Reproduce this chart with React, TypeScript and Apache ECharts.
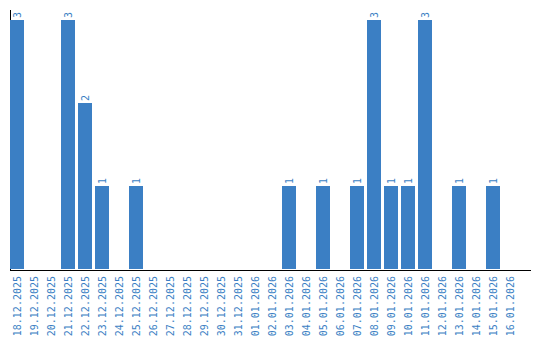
import React, { useEffect, useRef } from "react";
import * as echarts from "echarts";

const categories = [
  "18.12.2025", "19.12.2025", "20.12.2025", "21.12.2025", "22.12.2025", "23.12.2025",
  "24.12.2025", "25.12.2025", "26.12.2025", "27.12.2025", "28.12.2025", "29.12.2025",
  "30.12.2025", "31.12.2025", "01.01.2026", "02.01.2026", "03.01.2026", "04.01.2026",
  "05.01.2026", "06.01.2026", "07.01.2026", "08.01.2026", "09.01.2026", "10.01.2026",
  "11.01.2026", "12.01.2026", "13.01.2026", "14.01.2026", "15.01.2026", "16.01.2026",
];

const values = [
  3, 0, 0, 3, 2, 1,
  0, 1, 0, 0, 0, 0,
  0, 0, 0, 0, 1, 0,
  1, 0, 1, 3, 1, 1,
  3, 0, 1, 0, 1, 0,
];

const BLUE = "#3b7fc4";
const FONT = "DejaVu Sans Mono";

export default function App() {
  const ref = useRef<HTMLDivElement>(null);

  useEffect(() => {
    document.body.style.margin = "0";
    if (!ref.current) return;
    const chart = echarts.init(ref.current, undefined, { renderer: "svg" });
    chart.setOption({
      animation: false,
      grid: { left: 8.5, top: 20, width: 510, height: 249, containLabel: false },
      xAxis: {
        type: "category",
        data: categories,
        axisLine: { show: false },
        axisTick: { show: false },
        axisLabel: {
          rotate: 90,
          interval: 0,
          margin: 7,
          color: BLUE,
          fontFamily: FONT,
          fontSize: 10,
        },
      },
      yAxis: {
        type: "value",
        min: 0,
        max: 3,
        show: false,
        splitLine: { show: false },
      },
      series: [
        {
          type: "bar",
          data: values,
          barWidth: 14,
          itemStyle: { color: BLUE },
          label: {
            show: true,
            position: "top",
            rotate: 90,
            align: "left",
            verticalAlign: "middle",
            distance: 2,
            color: BLUE,
            fontFamily: FONT,
            fontSize: 10,
            formatter: (p: any) => (p.value ? String(p.value) : ""),
          },
        },
      ],
      graphic: [
        {
          type: "line",
          shape: { x1: 10.5, y1: 10, x2: 10.5, y2: 270 },
          style: { stroke: "#000", lineWidth: 1 },
          z: 0,
        },
        {
          type: "line",
          shape: { x1: 10, y1: 270.5, x2: 531, y2: 270.5 },
          style: { stroke: "#000", lineWidth: 1 },
          z: 10,
        },
      ],
    });
    return () => chart.dispose();
  }, []);

  return <div ref={ref} style={{ width: 540, height: 340 }} />;
}
